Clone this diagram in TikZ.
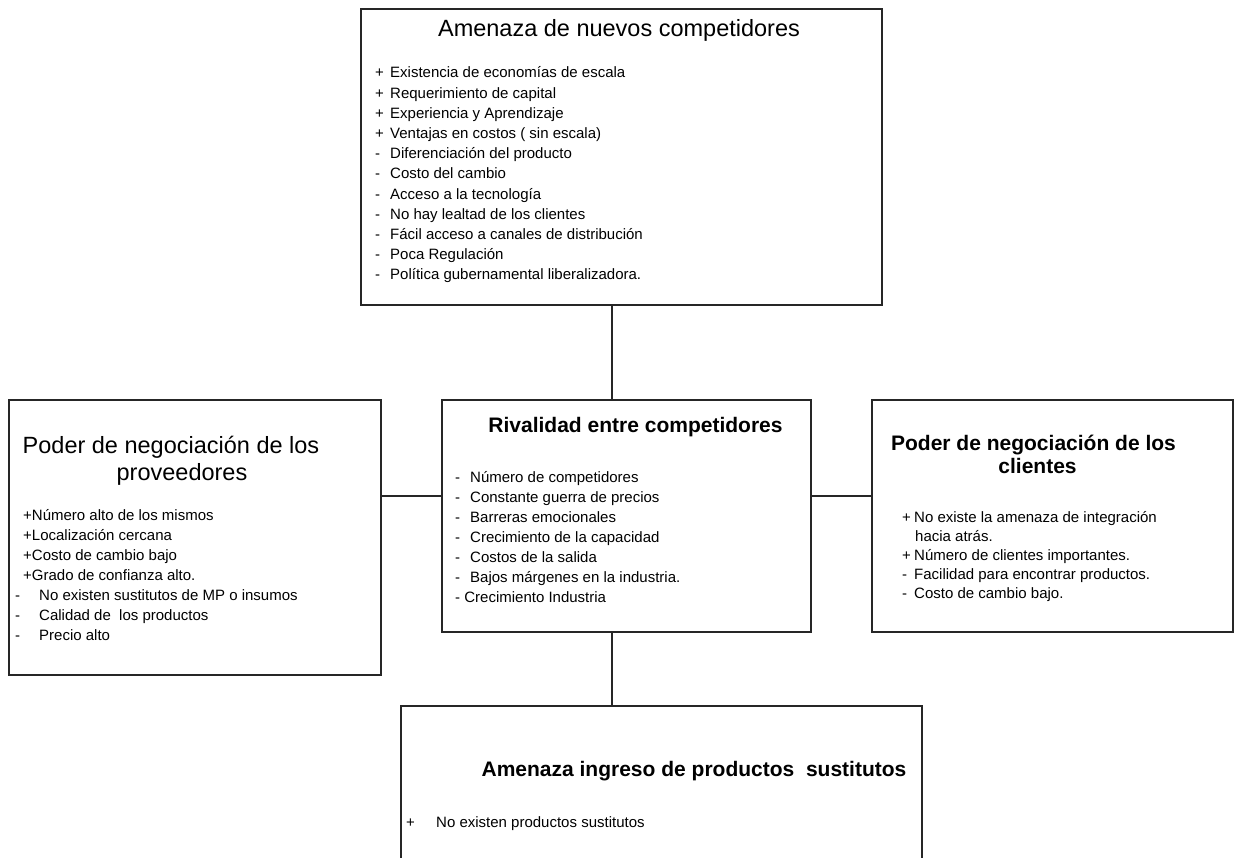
\documentclass[tikz,border=0pt]{standalone}
\usepackage{fontspec}
\setmainfont{Liberation Sans}
\tikzset{
  box/.style={draw=black!85, line width=1.2pt, fill=none, inner sep=0pt},
  conn/.style={draw=black!85, line width=1.2pt},
  body/.style={anchor=base west, inner sep=0pt, font=\fontsize{15}{18}\selectfont},
  htitle/.style={anchor=base, inner sep=0pt, font=\fontsize{23.5}{26}\selectfont},
  btitle/.style={anchor=base, inner sep=0pt, font=\fontsize{21}{24}\selectfont\bfseries},
}
\newcommand{\mk}[2]{\makebox[#1][l]{#2}}
\begin{document}
\begin{tikzpicture}[x=1pt,y=-1pt]
\useasboundingbox (0,0) rectangle (1234,858);
% boxes
\node[box, minimum width=521pt, minimum height=296pt] (top) at (621.5,157) {};
\node[box, minimum width=369pt, minimum height=232pt] (mid) at (626.5,516) {};
\node[box, minimum width=372pt, minimum height=275pt] (left) at (195,537.5) {};
\node[box, minimum width=361pt, minimum height=232pt] (right) at (1052.5,516) {};
\node[box, minimum width=521pt, minimum height=200pt] (bot) at (661.5,806) {};
% connectors
\coordinate (vx) at (612,0);
\coordinate (hy) at (0,496);
\draw[conn] (top.south -| vx) -- (mid.north -| vx);
\draw[conn] (mid.south -| vx) -- (bot.north -| vx);
\draw[conn] (left.east |- hy) -- (mid.west |- hy);
\draw[conn] (mid.east |- hy) -- (right.west |- hy);
% top box
\node[htitle] (tt) at (619,37) {Amenaza de nuevos competidores};
\node[body] (ta1) at (375,78.0) {\mk{15pt}{+}Existencia de economías de escala};
\node[body] (ta2) at (375,98.2) {\mk{15pt}{+}Requerimiento de capital};
\node[body] (ta3) at (375,118.4) {\mk{15pt}{+}Experiencia y Aprendizaje};
\node[body] (ta4) at (375,138.6) {\mk{15pt}{+}Ventajas en costos ( sin escala)};
\node[body] (ta5) at (375,158.8) {\mk{15pt}{-}Diferenciación del producto};
\node[body] (ta6) at (375,179.0) {\mk{15pt}{-}Costo del cambio};
\node[body] (ta7) at (375,199.2) {\mk{15pt}{-}Acceso a la tecnología};
\node[body] (ta8) at (375,219.4) {\mk{15pt}{-}No hay lealtad de los clientes};
\node[body] (ta9) at (375,239.6) {\mk{15pt}{-}Fácil acceso a canales de distribución};
\node[body] (ta10) at (375,259.8) {\mk{15pt}{-}Poca Regulación};
\node[body] (ta11) at (375,280.0) {\mk{15pt}{-}Política gubernamental liberalizadora.};
% middle box
\node[btitle] (mt) at (635.5,432) {Rivalidad entre competidores};
\node[body] (m1) at (455,482) {\mk{15pt}{-}Número de competidores};
\node[body] (m2) at (455,502) {\mk{15pt}{-}Constante guerra de precios};
\node[body] (m3) at (455,522) {\mk{15pt}{-}Barreras emocionales};
\node[body] (m4) at (455,542) {\mk{15pt}{-}Crecimiento de la capacidad};
\node[body] (m5) at (455,562) {\mk{15pt}{-}Costos de la salida};
\node[body] (m6) at (455,582) {\mk{15pt}{-}Bajos márgenes en la industria.};
\node[body] (m7) at (455,602) {- Crecimiento Industria};
% left box
\node[htitle] (lt1) at (171,453) {Poder de negociación de los};
\node[htitle] (lt2) at (182,480) {proveedores};
\node[body] (l1) at (23,520) {+Número alto de los mismos};
\node[body] (l2) at (23,540) {+Localización cercana};
\node[body] (l3) at (23,560) {+Costo de cambio bajo};
\node[body] (l4) at (23,580) {+Grado de confianza alto.};
\node[body] (l5) at (15,600) {\mk{24pt}{-}No existen sustitutos de MP o insumos};
\node[body] (l6) at (15,620) {\mk{24pt}{-}Calidad de\ \ los productos};
\node[body] (l7) at (15,640) {\mk{24pt}{-}Precio alto};
% right box
\node[btitle] (rt1) at (1033.5,450) {Poder de negociación de los};
\node[btitle] (rt2) at (1037.5,473) {clientes};
\node[body] (r1) at (902,522) {\mk{12pt}{+}No existe la amenaza de integración};
\node[body] (r2) at (915,541) {hacia atrás.};
\node[body] (r3) at (902,560) {\mk{12pt}{+}Número de clientes importantes.};
\node[body] (r4) at (902,579) {\mk{12pt}{-}Facilidad para encontrar productos.};
\node[body] (r5) at (902,598) {\mk{12pt}{-}Costo de cambio bajo.};
% bottom box
\node[btitle] (bt) at (694,776) {Amenaza ingreso de productos\ \ sustitutos};
\node[body] (b1) at (406,827) {\mk{30pt}{+}No existen productos sustitutos};
\end{tikzpicture}
\end{document}
